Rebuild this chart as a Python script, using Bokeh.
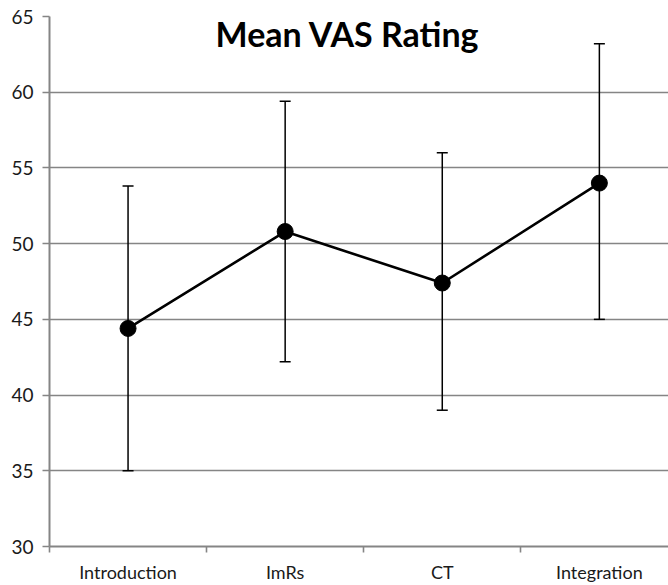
from bokeh.plotting import figure
from bokeh.models import Range1d, FixedTicker, Whisker, ColumnDataSource, Label, TeeHead
from bokeh.embed import file_html
from bokeh.resources import INLINE

categories = ["Introduction", "ImRs", "CT", "Integration"]
means = [44.4, 50.8, 47.4, 54.0]
upper = [53.8, 59.4, 56.0, 63.2]
lower = [35.0, 42.2, 39.0, 45.0]
y_ticks = [30, 35, 40, 45, 50, 55, 60, 65]
title_text = "Mean VAS Rating"

FONT = "Lato"
GRAY = "#858585"

x = [i + 0.5 for i in range(len(categories))]
src = ColumnDataSource(dict(x=x, mean=means, upper=upper, lower=lower))

p = figure(width=668, height=585, output_backend="svg", toolbar_location=None,
           x_range=Range1d(0, 3.94), y_range=Range1d(y_ticks[0], y_ticks[-1]),
           min_border_left=49, min_border_right=0, min_border_top=16, min_border_bottom=39)
p.outline_line_color = None
p.background_fill_color = "white"
p.border_fill_color = "white"

# grid
p.xgrid.grid_line_color = None
p.ygrid.grid_line_color = GRAY
p.ygrid.grid_line_width = 1.6
p.ygrid.ticker = FixedTicker(ticks=y_ticks)

# y axis
p.yaxis.ticker = FixedTicker(ticks=y_ticks)
p.yaxis.axis_line_color = GRAY
p.yaxis.axis_line_width = 2
p.yaxis.major_tick_line_color = GRAY
p.yaxis.major_tick_line_width = 1.6
p.yaxis.major_tick_out = 7
p.yaxis.major_tick_in = 0
p.yaxis.minor_tick_line_color = None
p.yaxis.major_label_text_font = FONT
p.yaxis.major_label_text_font_size = "19px"
p.yaxis.major_label_text_color = "#1a1a1a"
p.yaxis.major_label_standoff = 9

# x axis
p.xaxis.ticker = FixedTicker(ticks=x, minor_ticks=list(range(len(categories))))
p.xaxis.major_label_overrides = {xi: c for xi, c in zip(x, categories)}
p.xaxis.axis_line_color = GRAY
p.xaxis.axis_line_width = 2
p.xaxis.major_tick_line_color = None
p.xaxis.major_tick_out = 0
p.xaxis.major_tick_in = 0
p.xaxis.minor_tick_line_color = GRAY
p.xaxis.minor_tick_line_width = 1.6
p.xaxis.minor_tick_out = 6
p.xaxis.minor_tick_in = 0
p.xaxis.major_label_text_font = FONT
p.xaxis.major_label_text_font_size = "18px"
p.xaxis.major_label_text_color = "#1a1a1a"
p.xaxis.major_label_standoff = 8

# error bars
w = Whisker(source=src, base="x", upper="upper", lower="lower",
            line_color="black", line_width=1.5,
            upper_head=TeeHead(size=11, line_color="black", line_width=1.5),
            lower_head=TeeHead(size=11, line_color="black", line_width=1.5))
p.add_layout(w)

# line and markers
p.line("x", "mean", source=src, line_color="black", line_width=2.6)
p.scatter("x", "mean", source=src, size=16, fill_color="black", line_color="black")

# title inside plot
lbl = Label(x=(347 - 49) / 157, y=63.85, text=title_text, text_align="center",
            text_baseline="middle", text_font=FONT, text_font_style="bold",
            text_font_size="34px", text_color="black")
p.add_layout(lbl)

open("out.html", "w").write(file_html(p, INLINE))
